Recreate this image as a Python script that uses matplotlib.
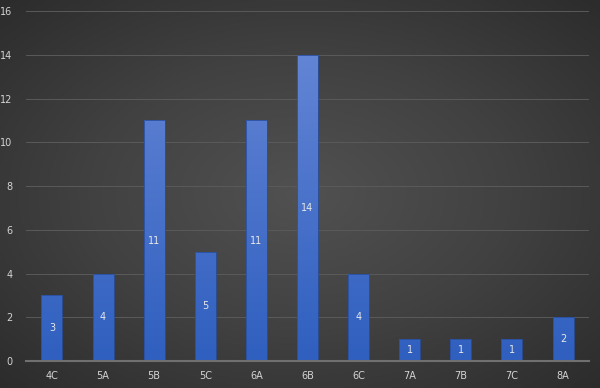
import matplotlib
matplotlib.use("Agg")
import matplotlib.pyplot as plt
import numpy as np
from matplotlib.colors import LinearSegmentedColormap
from matplotlib.patches import Rectangle

classes = ["4C", "5A", "5B", "5C", "6A", "6B", "6C", "7A", "7B", "7C", "8A"]
counts = [3, 4, 11, 5, 11, 14, 4, 1, 1, 1, 2]
y_ticks = [0, 2, 4, 6, 8, 10, 12, 14, 16]

text_col = "#d4d4d4"

fig = plt.figure(figsize=(6, 3.88), dpi=100)

# radial dark background
bg = fig.add_axes([0, 0, 1, 1], zorder=-10)
yy, xx = np.mgrid[-1:1:200j, -1:1:300j]
r = np.sqrt(xx ** 2 + yy ** 2) / np.sqrt(2)
bg_cmap = LinearSegmentedColormap.from_list("bg", ["#515151", "#414141", "#2c2c2c"])
bg.imshow(r, cmap=bg_cmap, aspect="auto", extent=[0, 1, 0, 1], vmin=0, vmax=1)
bg.axis("off")

ax = fig.add_axes([0.044, 0.0696, 0.937, 0.902])
ax.patch.set_alpha(0)
x = np.arange(len(classes))
bars = ax.bar(x, counts, width=0.41, color="none", edgecolor="#2a4f9e",
              linewidth=0.6, zorder=4)

# vertical blue gradient over the plot height, clipped to each bar
bar_cmap = LinearSegmentedColormap.from_list("bar", ["#2f5fbf", "#6a8ad8"])
grad = np.linspace(0, 1, 256).reshape(-1, 1)
for b in bars:
    im = ax.imshow(grad, cmap=bar_cmap, aspect="auto", origin="lower",
                   extent=[-0.5, len(classes) - 0.5, 0, 16], zorder=3)
    clip = Rectangle((b.get_x(), 0), b.get_width(), b.get_height(),
                     transform=ax.transData, facecolor="none", edgecolor="none")
    ax.add_patch(clip)
    im.set_clip_path(clip)
ax.set_xlim(-0.5, len(classes) - 0.5)
ax.set_ylim(0, 16)

for xi, v in zip(x, counts):
    ax.text(xi, v / 2, str(v), ha="center", va="center", color="#e8e8e8",
            fontsize=7, zorder=5)

ax.set_yticks(y_ticks)
ax.set_xticks(x)
ax.set_xticklabels(classes)
ax.tick_params(axis="both", length=0, colors=text_col, labelsize=7)
ax.tick_params(axis="x", pad=7)
ax.tick_params(axis="y", pad=10)
ax.grid(axis="y", color="#5a5a5a", linewidth=0.7, zorder=1)
for s in ["top", "right", "left"]:
    ax.spines[s].set_visible(False)
ax.spines["bottom"].set_color("#707070")
ax.spines["bottom"].set_linewidth(1.5)
ax.spines["bottom"].set_zorder(4)

fig.savefig("out.png", dpi=100)
